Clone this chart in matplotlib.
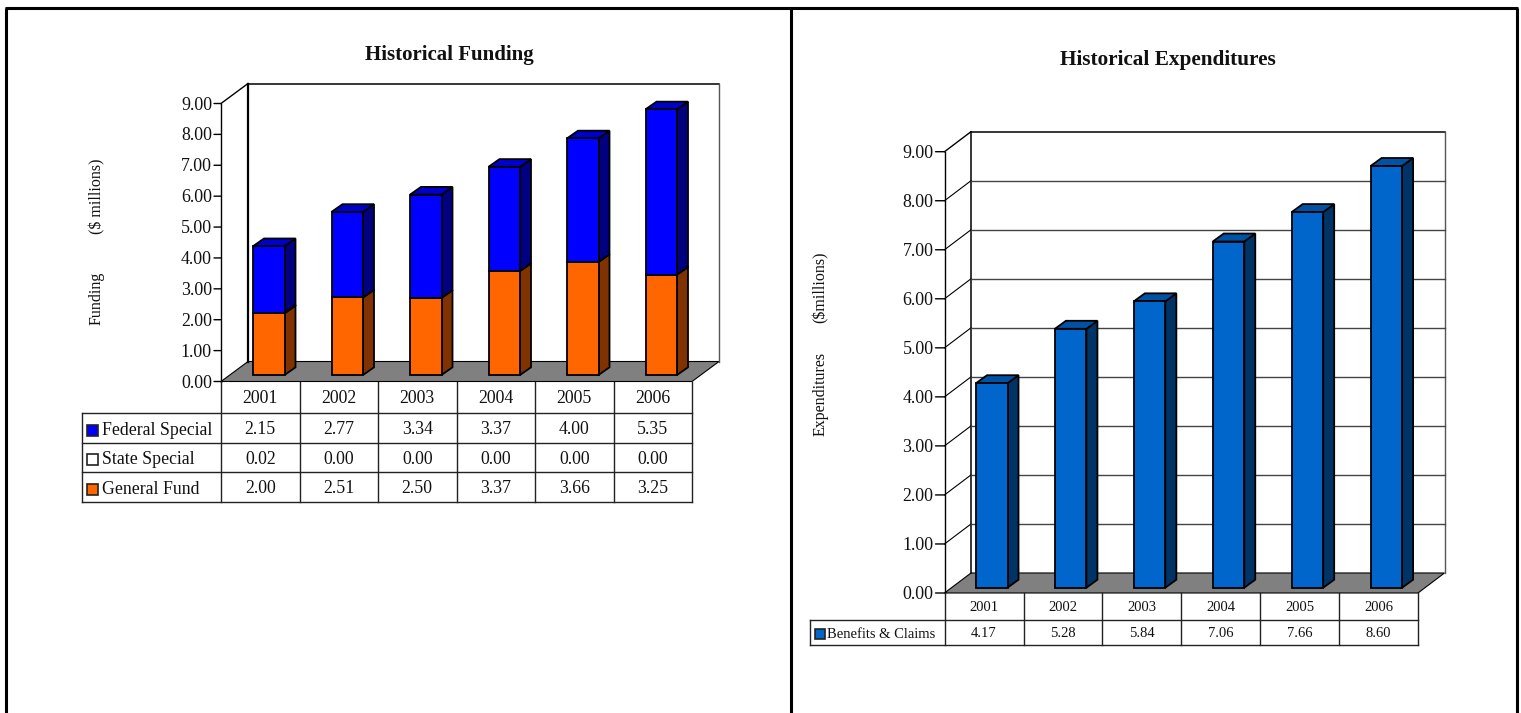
"""Funding and expenditure history, pseudo-3D bars with data tables."""
import matplotlib
matplotlib.use("Agg")
import matplotlib.pyplot as plt
from matplotlib.patches import Polygon, Rectangle

plt.rcParams["font.family"] = ["Liberation Serif", "DejaVu Serif"]

years = ["2001", "2002", "2003", "2004", "2005", "2006"]
y_ticks = [0, 1, 2, 3, 4, 5, 6, 7, 8, 9]

federal_special = [2.15, 2.77, 3.34, 3.37, 4.00, 5.35]
state_special = [0.02, 0.00, 0.00, 0.00, 0.00, 0.00]
general_fund = [2.00, 2.51, 2.50, 3.37, 3.66, 3.25]
benefits_claims = [4.17, 5.28, 5.84, 7.06, 7.66, 8.60]

W, H = 1521, 713
BLUE = ("#0000ff", "#0000cc", "#000080")
WHITE = ("#ffffff", "#eeeeee", "#999999")
ORANGE = ("#ff6600", "#cc5200", "#803300")
STEEL = ("#0066cc", "#0052a3", "#003366")
TEXT = "#111111"


def chart_axes(fig, left, right, y0, y9):
    ax = fig.add_axes([left / W, 1 - y0 / H, (right - left) / W, (y0 - y9) / H])
    ax.set_xlim(0, len(years))
    ax.set_ylim(0, 9)
    ax.set_axis_off()
    return ax


def draw_frame(ax, wall_dx, wall_dy, grid):
    n = len(years)
    ax.add_patch(Rectangle((wall_dx, wall_dy), n, 9, fc="white", ec="none", zorder=1))
    floor = [(0, 0), (wall_dx, wall_dy), (n + wall_dx, wall_dy), (n, 0)]
    ax.add_patch(Polygon(floor, fc="#808080", ec="black", lw=0.8, clip_on=False, zorder=2))
    top = 9 + wall_dy
    ax.plot([wall_dx, wall_dx], [wall_dy, top], color="black", lw=1.6 if not grid else 1.1, clip_on=False, zorder=2)
    ax.plot([wall_dx, n + wall_dx], [top, top], color="black", lw=1.1, clip_on=False, zorder=2)
    ax.plot([n + wall_dx, n + wall_dx], [wall_dy, top], color="#555555", lw=1.0, clip_on=False, zorder=2)
    ax.plot([0, 0], [0, 9], color="black", lw=1.0, clip_on=False, zorder=2)
    ax.plot([0, wall_dx], [9, top], color="black", lw=1.0, clip_on=False, zorder=2)
    if grid:
        for v in y_ticks[1:-1]:
            ax.plot([0, wall_dx], [v, v + wall_dy], color="black", lw=0.8, clip_on=False, zorder=2)
            ax.plot([wall_dx, n + wall_dx], [v + wall_dy, v + wall_dy], color="#444444", lw=1.0, clip_on=False, zorder=2)


def draw_block(ax, x, width, bottom, height, dx, dy, colors, lw, z):
    front, top_face, side = colors
    xr = x + width
    y1 = bottom + height
    ax.add_patch(Polygon([(xr, bottom), (xr + dx, bottom + dy), (xr + dx, y1 + dy), (xr, y1)],
                         fc=side, ec="black", lw=lw, clip_on=False, zorder=z))
    ax.add_patch(Polygon([(x, y1), (x + dx, y1 + dy), (xr + dx, y1 + dy), (xr, y1)],
                         fc=top_face, ec="black", lw=lw, clip_on=False, zorder=z))
    ax.add_patch(Rectangle((x, bottom), width, height, fc=front, ec="black", lw=lw,
                           clip_on=False, zorder=z))


def draw_bars(ax, series, offset, width, base, dx, dy):
    for i in range(len(years)):
        bottom = base
        for j, (values, colors) in enumerate(series):
            if values[i] > 0:
                draw_block(ax, i + offset, width, bottom, values[i], dx, dy, colors, 1.3, 3 + i + j * 0.1)
            bottom += values[i]


def draw_ticks(ax, tick_len, label_gap, size):
    for v in y_ticks:
        ax.annotate("", xy=(0, v), xytext=(-tick_len, 0), textcoords="offset pixels",
                    arrowprops=dict(arrowstyle="-", color="black", lw=1.0, shrinkA=0, shrinkB=0))
        ax.annotate(f"{v:.2f}", xy=(0, v), xytext=(-label_gap, 0.5), textcoords="offset pixels",
                    ha="right", va="center_baseline", fontsize=size, color=TEXT)


def draw_table(pix, columns, top, rows, label_left, row_labels, row_values, swatches, swatch_size, size, shift, text_gap):
    right = columns[-1]
    for y in rows:
        pix.plot([label_left, right], [y, y], color="#222222", lw=1.0)
    pix.plot([label_left, label_left], [rows[0], rows[-1]], color="#222222", lw=1.0)
    for x in columns:
        pix.plot([x, x], [top, rows[-1]], color="#222222", lw=1.0)
    for i, year in enumerate(years):
        xc = (columns[i] + columns[i + 1]) / 2
        pix.text(xc, (top + rows[0]) / 2 + 1, year, ha="center", va="center", fontsize=size, color=TEXT)
        for r, values in enumerate(row_values):
            pix.text(xc, (rows[r] + rows[r + 1]) / 2 + shift - 0.5, f"{values[i]:.2f}", ha="center", va="center",
                     fontsize=size, color=TEXT)
    for r, label in enumerate(row_labels):
        yc = (rows[r] + rows[r + 1]) / 2 + shift
        pix.add_patch(Rectangle((label_left + 4.5, yc - swatch_size / 2), swatch_size, swatch_size,
                                fc=swatches[r], ec="#222222", lw=1.2))
        pix.text(label_left + 4.5 + swatch_size + text_gap, yc + 0.5, label, ha="left", va="center", fontsize=size, color=TEXT)


fig = plt.figure(figsize=(W / 100, H / 100), dpi=100)

# full-figure layer in pixel units for the frame, titles and tables
pix = fig.add_axes([0, 0, 1, 1], zorder=5)
pix.set_xlim(0, W)
pix.set_ylim(H, 0)
pix.set_axis_off()
pix.patch.set_alpha(0)

for x in (6, 790.5, 1517):
    pix.plot([x, x], [8, H], color="black", lw=2.2, solid_capstyle="butt")
pix.plot([5, 1518], [8, 8], color="black", lw=2.2, solid_capstyle="butt")

# left chart
ax1 = chart_axes(fig, 221, 692, 381.5, 103.5)
draw_frame(ax1, 27 / 78.5, 20 / 30.9, False)
draw_bars(ax1, [(general_fund, ORANGE), (state_special, WHITE), (federal_special, BLUE)],
          32 / 78.5, 31.5 / 78.5, 6.5 / 30.9, 11 / 78.5, 7.7 / 30.9)
draw_ticks(ax1, 7, 9, 12.9)

pix.text(449, 55, "Historical Funding", ha="center", va="center", fontsize=15, fontweight="bold", color=TEXT)
pix.text(97, 298, "Funding", rotation=90, ha="center", va="center", fontsize=11.5, color=TEXT)
pix.text(97, 196.5, "($ millions)", rotation=90, ha="center", va="center", fontsize=11.5, color=TEXT)

draw_table(pix, [221, 299.5, 378, 456.5, 535, 613.5, 692], 381.5, [413, 443, 472, 502], 82,
           ["Federal Special", "State Special", "General Fund"],
           [federal_special, state_special, general_fund],
           ["#0000ff", "#ffffff", "#ff6600"], 11, 12.8, 2, 4)

# right chart
ax2 = chart_axes(fig, 944.5, 1418, 593, 151.7)
draw_frame(ax2, 26.5 / 78.9, 20 / 49.0, True)
draw_bars(ax2, [(benefits_claims, STEEL)],
          31.5 / 78.9, 31.5 / 78.9, 5.3 / 49.0, 11 / 78.9, 8 / 49.0)
draw_ticks(ax2, 9, 11, 12.9)

pix.text(1167.5, 60, "Historical Expenditures", ha="center", va="center", fontsize=15.3, fontweight="bold", color=TEXT)
pix.text(821, 393.5, "Expenditures", rotation=90, ha="center", va="center", fontsize=11.5, color=TEXT)
pix.text(821, 287.5, "($millions)", rotation=90, ha="center", va="center", fontsize=11.5, color=TEXT)

draw_table(pix, [944.5, 1023.5, 1102, 1181, 1260, 1339, 1418], 593, [620, 645], 810,
           ["Benefits & Claims"], [benefits_claims], ["#0066cc"], 10, 10.5, 1.5, 2.5)

fig.savefig("out.png", dpi=100)
